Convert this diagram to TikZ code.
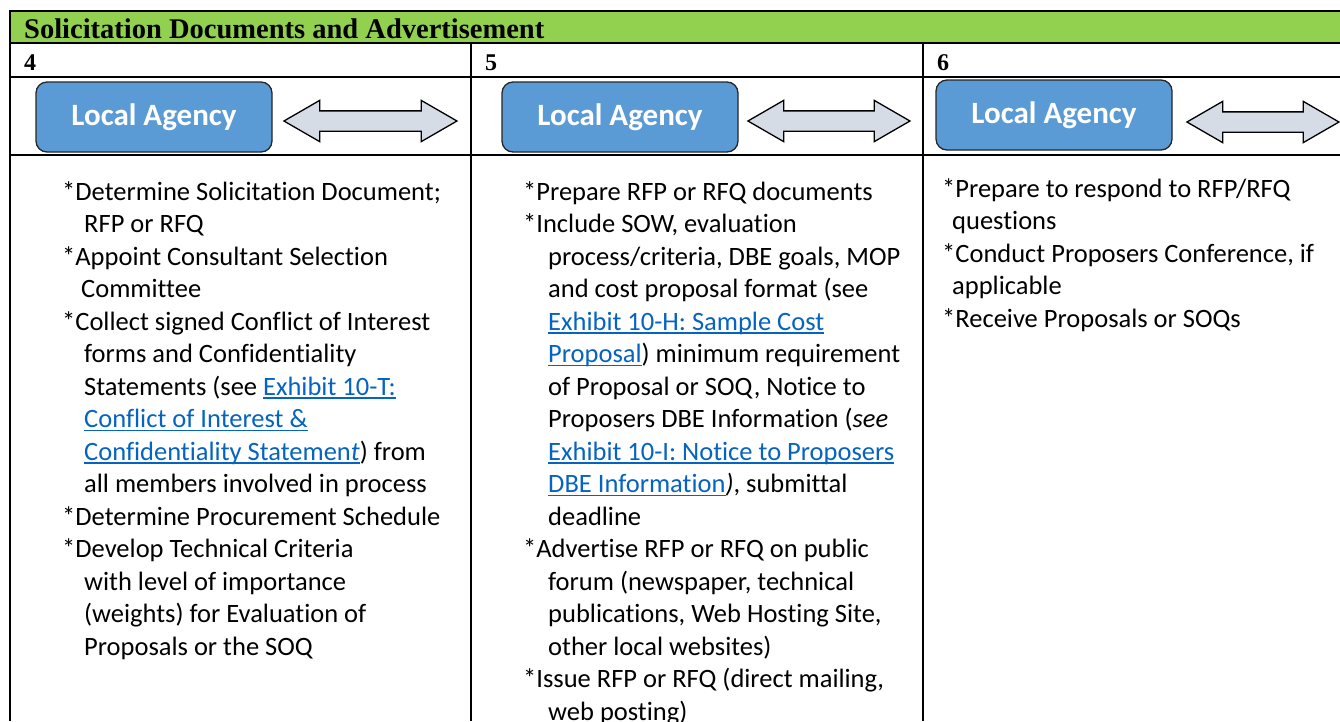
\documentclass[tikz,border=0pt]{standalone}
\usepackage{fontspec}
\setmainfont{Carlito}[Ligatures=NoCommon]
\newfontfamily\headfont{Liberation Serif}
\usetikzlibrary{positioning,shapes.arrows}

\definecolor{bargreen}{HTML}{92D050}
\definecolor{boxblue}{HTML}{5B9BD5}
\definecolor{arrowgray}{HTML}{D6DCE5}
\definecolor{linkblue}{HTML}{0563C1}
\newcommand{\lnk}[1]{{\color{linkblue}\setbox0\hbox{#1}\rlap{\rule[-3.5pt]{\wd0}{1.3pt}}\box0}}

\begin{document}
\begin{tikzpicture}[x=1pt,y=-1pt,
  rule/.style={line width=2.2pt},
  agency/.style={draw=black!85,line width=1.3pt,fill=boxblue,rounded corners=11pt,
    minimum width=236pt,minimum height=70pt,text=white,
    font=\fontsize{31}{33}\selectfont\bfseries},
  twoway/.style={double arrow,draw=black,line width=1.3pt,fill=arrowgray,
    double arrow head extend=10.5pt,double arrow tip angle=60,
    text height=19pt,text depth=0pt,inner sep=0pt},
  num/.style={anchor=base west,inner sep=0pt,font=\headfont\fontsize{24}{26}\selectfont\bfseries},
  items/.style={anchor=north west,inner sep=0pt,align=left,font=\fontsize{26.5}{32.5}\selectfont}]
  \useasboundingbox (0,0) rectangle (1340,721);

  % table
  \fill[bargreen] (10,11) rectangle (1340,43);
  \draw[rule] (1340,11) -- (10,11) -- (10,721);
  \draw[rule] (10,43) -- (1340,43) (10,77) -- (1340,77) (10,155) -- (1340,155);
  \draw[rule] (471,43) -- (471,721) (923,43) -- (923,721);

  \node[num,font=\headfont\fontsize{28.5}{30}\selectfont\bfseries] (title) at (24,38) {Solicitation Documents and Advertisement};
  \node[num] (n4) at (24,70) {4};
  \node[num] (n5) at (485,70) {5};
  \node[num] (n6) at (937,70) {6};

  \node[agency] (la4) at (154,117) {Local Agency};
  \node[agency] (la5) at (620,117) {Local Agency};
  \node[agency] (la6) at (1054,115) {Local Agency};
  \node[twoway,minimum height=173pt] (ar4) [right=10pt of la4,yshift=-4pt] {};
  \node[twoway,minimum height=162pt] (ar5) [right=8pt of la5,yshift=-4pt] {};
  \node[twoway,minimum height=152pt] (ar6) [right=13pt of la6,yshift=-7pt] {};

  \node[items] (list4) at (62,181) {%
    *Determine Solicitation Document;\\
    \hspace*{22pt}RFP or RFQ\\
    *Appoint Consultant Selection\\
    \hspace*{19pt}Committee\\
    *Collect signed Conflict of Interest\\
    \hspace*{22pt}forms and Confidentiality\\
    \hspace*{22pt}Statements (see \lnk{Exhibit 10-T:}\\
    \hspace*{22pt}\lnk{Conflict of Interest \&}\\
    \hspace*{22pt}\lnk{Confidentiality Statemen\textit{t}}) from\\
    \hspace*{22pt}all members involved in process\\
    *Determine Procurement Schedule\\
    *Develop Technical Criteria\\
    \hspace*{22pt}with level of importance\\
    \hspace*{22pt}(weights) for Evaluation of\\
    \hspace*{22pt}Proposals or the SOQ};

  \node[items] (list5) at (523,181) {%
    *Prepare RFP or RFQ documents\\
    *Include SOW, evaluation\\
    \hspace*{25pt}process/criteria, DBE goals, MOP\\
    \hspace*{25pt}and cost proposal format (see\\
    \hspace*{25pt}\lnk{Exhibit 10-H: Sample Cost}\\
    \hspace*{25pt}\lnk{Proposal}) minimum requirement\\
    \hspace*{25pt}of Proposal or SOQ, Notice to\\
    \hspace*{25pt}Proposers DBE Information (\textit{see}\\
    \hspace*{25pt}\lnk{Exhibit 10-I: Notice to Proposers}\\
    \hspace*{25pt}\lnk{DBE Information}\textit{)}, submittal\\
    \hspace*{25pt}deadline\\
    *Advertise RFP or RFQ on public\\
    \hspace*{25pt}forum (newspaper, technical\\
    \hspace*{25pt}publications, Web Hosting Site,\\
    \hspace*{25pt}other local websites)\\
    *Issue RFP or RFQ (direct mailing,\\
    \hspace*{25pt}web posting)};

  \node[items] (list6) at (942,178) {%
    *Prepare to respond to RFP/RFQ\\
    \hspace*{10pt}questions\\
    *Conduct Proposers Conference, if\\
    \hspace*{10pt}applicable\\
    *Receive Proposals or SOQs};
\end{tikzpicture}
\end{document}
